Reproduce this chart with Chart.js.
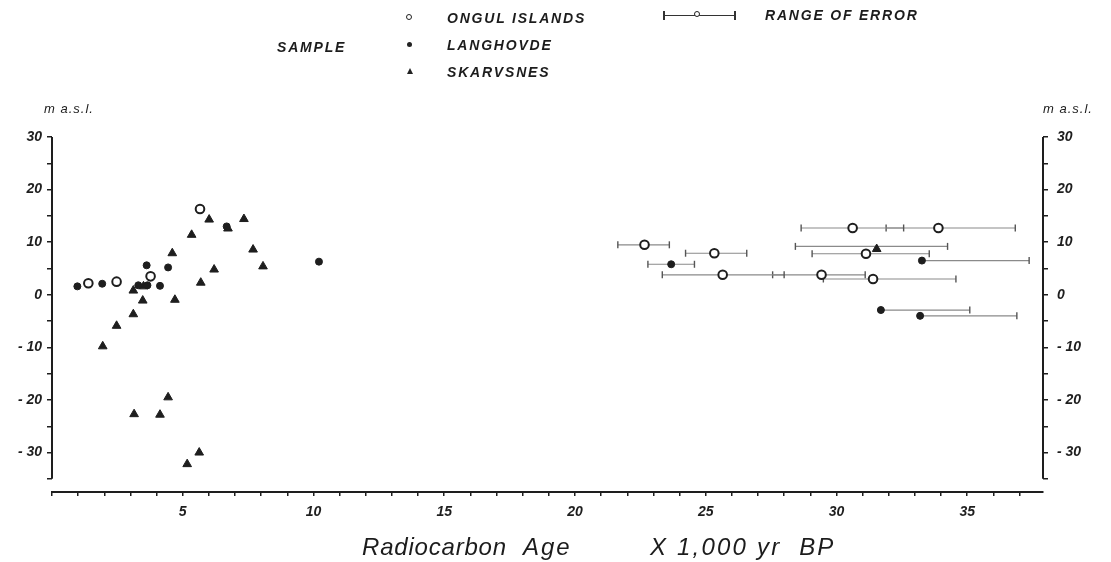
<!DOCTYPE html>
<html>
<head>
<meta charset="utf-8">
<script src="https://cdn.jsdelivr.net/npm/chart.js@4.4.0/dist/chart.umd.min.js"></script>
<style>
  html, body { margin: 0; padding: 0; background: #fff; }
  #wrap { position: relative; width: 1111px; height: 562px; overflow: hidden;
          font-family: "Liberation Sans", Arial, sans-serif; font-style: italic; color: #1c1c1c; }
  #chart { position: absolute; left: 0; top: 0; }
  .lbl { position: absolute; white-space: pre; line-height: 1; }
  .leg { font-size: 14px; font-weight: bold; letter-spacing: 1.8px; }
  .unit { font-size: 13px; letter-spacing: 1px; }
  .xtitle { font-size: 24px; letter-spacing: 0.8px; }
  .sym { position: absolute; }
  .open { width: 4px; height: 4px; border: 1.5px solid #222; border-radius: 50%; }
  .dot { width: 5px; height: 5px; background: #222; border-radius: 50%; }
  .tri { width: 0; height: 0; border-left: 3px solid transparent; border-right: 3px solid transparent;
         border-bottom: 6px solid #222; }
</style>
</head>
<body>
<div id="wrap">
  <canvas id="chart" width="1111" height="562"></canvas>

  <div class="lbl leg" style="left:277px; top:40px;">SAMPLE</div>
  <div class="sym open" style="left:406px; top:14px;"></div>
  <div class="sym dot" style="left:407px; top:42px;"></div>
  <div class="sym tri" style="left:407px; top:68px;"></div>
  <div class="lbl leg" style="left:447px; top:11px;">ONGUL ISLANDS</div>
  <div class="lbl leg" style="left:447px; top:38px;">LANGHOVDE</div>
  <div class="lbl leg" style="left:447px; top:65px;">SKARVSNES</div>

  <div class="sym" style="left:663px; top:15px; width:72px; height:1px; background:#333;"></div>
  <div class="sym" style="left:663px; top:11px; width:1.5px; height:9px; background:#333;"></div>
  <div class="sym" style="left:734px; top:11px; width:1.5px; height:9px; background:#333;"></div>
  <div class="sym open" style="left:694px; top:11px; background:#fff;"></div>
  <div class="lbl leg" style="left:765px; top:8px;">RANGE OF ERROR</div>

  <div class="lbl unit" style="left:44px; top:102px;">m a.s.l.</div>
  <div class="lbl unit" style="left:1043px; top:102px;">m a.s.l.</div>

  <div class="lbl xtitle" style="left:362px; top:535px;">Radiocarbon</div>
  <div class="lbl xtitle" style="left:523px; top:535px; letter-spacing:2px;">Age</div>
  <div class="lbl xtitle" style="left:650px; top:535px; letter-spacing:2.2px;">X 1,000 yr  BP</div>
</div>

<script>
// --- Data (age in 1,000 yr BP, height in m a.s.l.) ---
const ongulAge = [1.39, 2.47, 3.77, 5.66, 22.66, 25.33, 25.65, 29.43, 30.62, 33.9, 31.13, 31.4];
const ongulHeight = [2.2, 2.5, 3.5, 16.3, 9.5, 7.9, 3.8, 3.8, 12.7, 12.7, 7.8, 3.0];

const langAge = [0.97, 1.92, 3.3, 3.65, 3.62, 4.13, 4.44, 6.68, 10.21, 23.68, 33.27, 31.7, 33.2];
const langHeight = [1.6, 2.1, 1.8, 1.8, 5.6, 1.7, 5.2, 13.0, 6.3, 5.8, 6.5, -2.9, -4.0];

const skarAge = [1.94, 2.47, 3.11, 3.11, 3.47, 3.5, 4.6, 4.7, 5.34, 6.01, 6.73, 7.34, 7.69, 8.07,
                 6.2, 5.69, 3.14, 4.13, 4.44, 5.17, 5.63, 31.54];
const skarHeight = [-9.8, -5.9, -3.7, 0.8, -1.1, 1.6, 7.9, -0.95, 11.4, 14.3, 12.6, 14.4, 8.6, 5.4,
                    4.8, 2.3, -22.7, -22.8, -19.5, -32.2, -30.0, 8.7];

// range of error bars
const errHeight = [9.5, 7.9, 5.8, 3.8, 3.8, 3.0, 12.7, 12.7, 9.2, 7.8, 6.5, -2.9, -4.0];
const errLow = [21.64, 24.23, 22.79, 23.34, 27.56, 29.5, 28.65, 31.9, 28.43, 29.07, 33.27, 31.7, 33.2];
const errHigh = [23.61, 26.57, 24.57, 28.0, 31.1, 34.57, 32.57, 36.84, 34.25, 33.55, 37.37, 35.1, 36.9];

// axis extents
const ageMin = 0, ageMax = 37.9;
const heightTop = 30, heightAxisEnd = -35, heightMin = -37.5;

const toPoints = (xs, ys) => xs.map((x, i) => ({ x: x, y: ys[i] }));

const ink = '#1e1e1e';
const tickFont = { family: '"Liberation Sans", Arial, sans-serif', size: 14, style: 'italic', weight: 'bold' };

const errorSets = errHeight.map((h, i) => ({
    data: [{ x: errLow[i], y: h }, { x: errHigh[i], y: h }],
    showLine: true,
    borderColor: '#8a8a8a',
    borderWidth: 1.2,
    pointStyle: 'line',
    pointRotation: 90,
    pointRadius: 3.5,
    pointBorderColor: '#555',
    pointBorderWidth: 1.4,
    order: 3
}));

// y axis lines only reach from +30 to -35, like the original
const axisLines = {
    id: 'axisLines',
    afterDraw(chart) {
        const ctx = chart.ctx;
        ['y', 'y2'].forEach(id => {
            const s = chart.scales[id];
            const x = id === 'y' ? s.right : s.left;
            ctx.save();
            ctx.strokeStyle = ink;
            ctx.lineWidth = 2;
            ctx.beginPath();
            ctx.moveTo(x, s.getPixelForValue(heightTop));
            ctx.lineTo(x, s.getPixelForValue(heightAxisEnd));
            ctx.stroke();
            ctx.restore();
        });
    }
};

function heightLabel(v) {
    if (v % 10 !== 0) return '';
    return v < 0 ? '- ' + Math.abs(v) : String(v);
}

function heightAxis(pos, width, pad) {
    return {
        type: 'linear',
        position: pos,
        min: heightMin,
        max: heightTop,
        afterFit: s => { s.width = width; },
        border: { display: false },
        grid: { drawOnChartArea: false, drawTicks: true, tickLength: 5, color: ink, lineWidth: 1.5 },
        ticks: {
            stepSize: 5,
            includeBounds: false,
            autoSkip: false,
            padding: pad,
            color: ink,
            font: tickFont,
            callback: v => heightLabel(v)
        }
    };
}

new Chart(document.getElementById('chart').getContext('2d'), {
    type: 'scatter',
    data: {
        datasets: [
            {
                label: 'ONGUL ISLANDS',
                data: toPoints(ongulAge, ongulHeight),
                pointStyle: 'circle',
                pointRadius: 4.3,
                pointBackgroundColor: '#fff',
                pointBorderColor: ink,
                pointBorderWidth: 2,
                order: 1
            },
            {
                label: 'LANGHOVDE',
                data: toPoints(langAge, langHeight),
                pointStyle: 'circle',
                pointRadius: 3.5,
                pointBackgroundColor: ink,
                pointBorderColor: ink,
                pointBorderWidth: 1,
                order: 1
            },
            {
                label: 'SKARVSNES',
                data: toPoints(skarAge, skarHeight),
                pointStyle: 'triangle',
                pointRadius: 5,
                pointBackgroundColor: ink,
                pointBorderColor: ink,
                pointBorderWidth: 1,
                order: 1
            },
            ...errorSets
        ]
    },
    options: {
        responsive: false,
        animation: false,
        layout: { padding: { top: 137, left: 0, right: 0, bottom: 0 } },
        plugins: { legend: { display: false }, tooltip: { enabled: false } },
        scales: {
            x: {
                type: 'linear',
                min: ageMin,
                max: ageMax,
                afterFit: s => { s.height = 70; },
                border: { display: true, color: ink, width: 2 },
                grid: { drawOnChartArea: false, drawTicks: true, tickLength: 4, color: ink, lineWidth: 1.5 },
                ticks: {
                    stepSize: 1,
                    includeBounds: false,
                    autoSkip: false,
                    maxRotation: 0,
                    padding: 8,
                    color: ink,
                    font: tickFont,
                    callback: v => (v > 0 && v % 5 === 0) ? String(v) : ''
                }
            },
            y: heightAxis('left', 52, 5),
            y2: heightAxis('right', 68, 9)
        }
    },
    plugins: [axisLines]
});
</script>
</body>
</html>
